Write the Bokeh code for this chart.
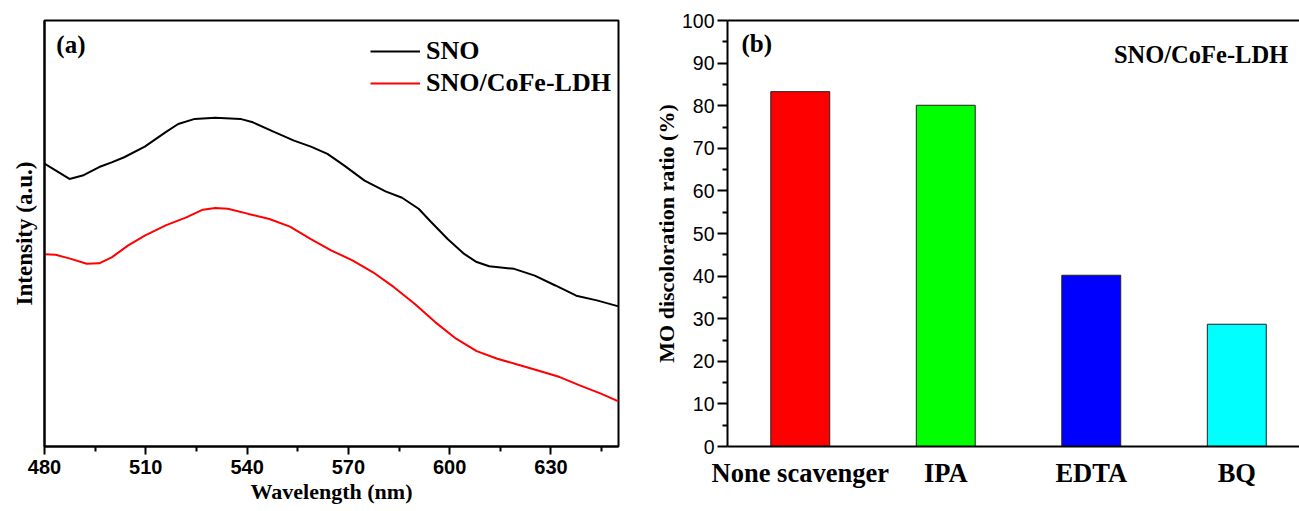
from bokeh.plotting import figure
from bokeh.layouts import row
from bokeh.models import (ColumnDataSource, FixedTicker, Legend, LegendItem,
                          LinearAxis, Range1d, Label)
from bokeh.embed import file_html
from bokeh.resources import INLINE

# ---------------- data ----------------
wl_sno = [480, 487.4, 491.3, 496.2, 499.9, 503.6, 509.7, 515.9, 519.6, 524.5,
          530.6, 538.0, 541.7, 547.8, 553.9, 558.9, 563.8, 568.7, 574.8, 581.0,
          585.9, 590.8, 594.5, 599.4, 604.3, 608.0, 611.7, 619.1, 625.2, 631.3,
          637.5, 643.6, 650.0]
int_sno = [66.4, 62.8, 63.6, 65.6, 66.7, 67.9, 70.4, 73.8, 75.7, 76.9,
           77.2, 76.9, 76.1, 73.9, 71.8, 70.4, 68.7, 66.0, 62.4, 59.9,
           58.4, 55.8, 52.7, 48.7, 45.2, 43.3, 42.3, 41.7, 40.1, 37.8,
           35.4, 34.3, 32.9]
wl_ldh = [480, 483.3, 487.6, 492.5, 496.2, 499.9, 504.8, 509.7, 515.9, 522.0,
          526.9, 530.6, 534.3, 540.4, 546.6, 552.7, 558.9, 565.0, 571.2, 577.3,
          583.5, 589.6, 595.7, 601.9, 608.0, 614.1, 620.3, 626.4, 632.6, 638.7,
          644.8, 650.0]
int_ldh = [45.1, 45.0, 44.1, 42.9, 43.0, 44.4, 47.2, 49.5, 51.9, 53.8,
           55.6, 56.0, 55.8, 54.6, 53.4, 51.6, 48.7, 46.0, 43.7, 40.9,
           37.4, 33.5, 29.2, 25.3, 22.4, 20.6, 19.2, 17.8, 16.3, 14.3,
           12.4, 10.6]
wl_ticks = [480, 510, 540, 570, 600, 630]
wl_minor = [495, 525, 555, 585, 615, 645]

categories = ["None scavenger", "IPA", "EDTA", "BQ"]
ratios = [83.3, 80.1, 40.2, 28.7]
bar_colors = ["#FF0000", "#00FF00", "#0000FF", "#00FFFF"]
y_ticks = [0, 10, 20, 30, 40, 50, 60, 70, 80, 90, 100]

SERIF = "Liberation Serif"
SANS = "Liberation Sans"

# ---------------- panel (a) ----------------
p1 = figure(width=650, height=511, output_backend="svg", toolbar_location=None,
            x_range=Range1d(480, 650), y_range=Range1d(0, 100),
            min_border_left=44, min_border_right=32, min_border_top=20,
            min_border_bottom=65)
p1.background_fill_color = "white"
p1.border_fill_color = "white"
p1.grid.visible = False
p1.outline_line_color = "black"
p1.outline_line_width = 2

r1 = p1.line(wl_sno, int_sno, line_color="black", line_width=2)
r2 = p1.line(wl_ldh, int_ldh, line_color="#FF0000", line_width=2)

xa = p1.xaxis[0]
xa.ticker = FixedTicker(ticks=wl_ticks, minor_ticks=wl_minor)
xa.axis_line_width = 2
xa.major_tick_in = 0
xa.major_tick_out = 8
xa.minor_tick_in = 0
xa.minor_tick_out = 5
xa.major_tick_line_width = 2
xa.minor_tick_line_width = 2
xa.major_label_text_font = SANS
xa.major_label_text_font_style = "bold"
xa.major_label_text_font_size = "20px"
xa.major_label_text_color = "black"
xa.major_label_standoff = 5
xa.axis_label = "Wavelength (nm)"
xa.axis_label_text_font = SERIF
xa.axis_label_text_font_style = "bold"
xa.axis_label_text_font_size = "22px"
xa.axis_label_text_color = "black"
xa.axis_label_standoff = 2

ya = p1.yaxis[0]
ya.ticker = FixedTicker(ticks=[])
ya.axis_line_width = 2
ya.major_tick_out = 0
ya.major_tick_in = 0
ya.minor_tick_out = 0
ya.minor_tick_in = 0
ya.major_label_standoff = 0
ya.axis_label = "Intensity (a.u.)"
ya.axis_label_text_font = SERIF
ya.axis_label_text_font_style = "bold"
ya.axis_label_text_font_size = "23px"
ya.axis_label_text_color = "black"
ya.axis_label_standoff = 8

legend = Legend(items=[LegendItem(label="SNO", renderers=[r1]),
                       LegendItem(label="SNO/CoFe-LDH", renderers=[r2])],
                location=(326, 347))
legend.border_line_color = None
legend.background_fill_alpha = 0
legend.padding = 0
legend.margin = 0
legend.spacing = 0
legend.glyph_width = 50
legend.glyph_height = 32
legend.label_height = 32
legend.label_standoff = 6
legend.label_text_font = SERIF
legend.label_text_font_style = "bold"
legend.label_text_font_size = "26px"
legend.label_text_color = "black"
legend.label_text_baseline = "middle"
p1.add_layout(legend)

p1.add_layout(Label(x=483.5, y=94.4, text="(a)", text_font=SERIF,
                    text_font_style="bold", text_font_size="25px",
                    text_color="black",
                    text_baseline="middle", text_align="left"))

# ---------------- panel (b) ----------------
xs = [1, 2, 3, 4]
src = ColumnDataSource(dict(x=xs, top=ratios, color=bar_colors))
p2 = figure(width=649, height=511, output_backend="svg", toolbar_location=None,
            x_range=Range1d(0.5, 4.431), y_range=Range1d(0, 100),
            min_border_left=77, min_border_right=0, min_border_top=19,
            min_border_bottom=64)
p2.background_fill_color = "white"
p2.border_fill_color = "white"
p2.grid.visible = False
p2.outline_line_color = None

p2.vbar(x="x", top="top", width=0.405, bottom=0, fill_color="color",
        line_color="#222222", line_width=1, source=src)

bx = p2.xaxis[0]
bx.ticker = FixedTicker(ticks=xs)
bx.major_label_overrides = {i + 1: c for i, c in enumerate(categories)}
bx.axis_line_width = 2
bx.major_tick_out = 0
bx.major_tick_in = 0
bx.minor_tick_out = 0
bx.minor_tick_in = 0
bx.major_label_standoff = 11
bx.major_label_text_font = SERIF
bx.major_label_text_font_style = "bold"
bx.major_label_text_font_size = "26.5px"
bx.major_label_text_color = "black"

by = p2.yaxis[0]
by.ticker = FixedTicker(ticks=y_ticks, minor_ticks=[v + 5 for v in y_ticks[:-1]])
by.axis_line_width = 2
by.major_tick_in = 0
by.major_tick_out = 10
by.minor_tick_in = 0
by.minor_tick_out = 5
by.major_tick_line_width = 2
by.minor_tick_line_width = 2
by.major_label_standoff = 3
by.major_label_text_font = SANS
by.major_label_text_font_size = "19.5px"
by.major_label_text_color = "black"
by.axis_label = "MO discoloration ratio (%)"
by.axis_label_text_font = SERIF
by.axis_label_text_font_style = "bold"
by.axis_label_text_font_size = "22px"
by.axis_label_text_color = "black"
by.axis_label_standoff = 0

top_axis = LinearAxis(ticker=FixedTicker(ticks=[]), axis_line_width=2,
                      major_tick_out=0, major_tick_in=0, minor_tick_out=0,
                      minor_tick_in=0, major_label_standoff=0)
p2.add_layout(top_axis, "above")

p2.add_layout(Label(x=0.596, y=94.7, text="(b)", text_font=SERIF,
                    text_font_style="bold", text_font_size="25px",
                    text_color="black",
                    text_baseline="middle", text_align="left"))
p2.add_layout(Label(x=4.353, y=92.1, text="SNO/CoFe-LDH", text_font=SERIF,
                    text_font_style="bold", text_font_size="24.5px",
                    text_color="black",
                    text_baseline="middle", text_align="right"))

layout = row(p1, p2)
open("out.html", "w").write(file_html(layout, INLINE))
